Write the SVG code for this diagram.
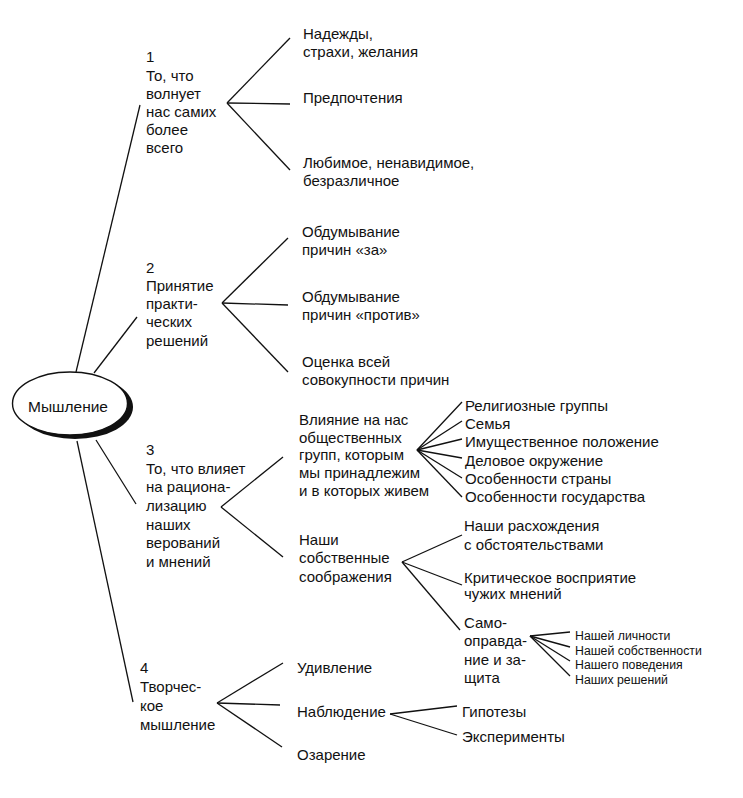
<svg xmlns="http://www.w3.org/2000/svg" width="743" height="798" viewBox="0 0 743 798">
<style>
text{font-family:"Liberation Sans","Noto Sans",Arial,sans-serif;font-size:15px;fill:#111}
.s{font-size:12.3px}
.c line{stroke:#111;stroke-width:1.3;fill:none}
</style>
<rect width="743" height="798" fill="#fff"/>
<g id="connectors" class="c">
<line x1="76" y1="372" x2="140" y2="105"/>
<line x1="94" y1="373" x2="137" y2="317"/>
<line x1="96" y1="440" x2="136" y2="504"/>
<line x1="77" y1="441" x2="133" y2="702"/>
<line x1="227" y1="103" x2="290" y2="38"/>
<line x1="227" y1="103" x2="290" y2="104"/>
<line x1="227" y1="103" x2="290" y2="170"/>
<line x1="222" y1="303" x2="288" y2="238"/>
<line x1="222" y1="303" x2="288" y2="305"/>
<line x1="222" y1="303" x2="288" y2="372"/>
<line x1="221" y1="507" x2="283" y2="457"/>
<line x1="221" y1="507" x2="283" y2="557"/>
<line x1="417" y1="450" x2="462" y2="402"/>
<line x1="417" y1="450" x2="462" y2="421"/>
<line x1="417" y1="450" x2="462" y2="439"/>
<line x1="417" y1="450" x2="462" y2="458"/>
<line x1="417" y1="450" x2="462" y2="478"/>
<line x1="417" y1="450" x2="462" y2="497"/>
<line x1="402" y1="562" x2="462" y2="535"/>
<line x1="402" y1="562" x2="462" y2="585"/>
<line x1="402" y1="562" x2="460" y2="630"/>
<line x1="530" y1="636" x2="570" y2="632"/>
<line x1="530" y1="636" x2="570" y2="647"/>
<line x1="530" y1="636" x2="570" y2="661"/>
<line x1="530" y1="636" x2="570" y2="676"/>
<line x1="217" y1="703" x2="283" y2="663"/>
<line x1="217" y1="703" x2="280" y2="705"/>
<line x1="217" y1="703" x2="282" y2="747"/>
<line x1="390" y1="714" x2="457" y2="706"/>
<line x1="390" y1="714" x2="457" y2="735"/>
</g>
<g id="root">
<ellipse cx="75" cy="407" rx="58" ry="32" fill="#111"/>
<ellipse cx="70" cy="403.5" rx="57.5" ry="31.5" fill="#fff" stroke="#111" stroke-width="1.4"/>
<text x="68" y="412" text-anchor="middle" style="font-size:15.5px">Мышление</text>
</g>
<g id="b1">
<text x="146" y="62">1</text>
<text x="146" y="81">То, что</text>
<text x="146" y="99">волнует</text>
<text x="146" y="117">нас самих</text>
<text x="146" y="135">более</text>
<text x="146" y="153">всего</text>
</g>
<g id="b1a"><text x="303" y="39">Надежды,</text><text x="303" y="57">страхи, желания</text></g>
<g id="b1b"><text x="303" y="103">Предпочтения</text></g>
<g id="b1c"><text x="303" y="168">Любимое, ненавидимое,</text><text x="303" y="186">безразличное</text></g>
<g id="b2">
<text x="146" y="273">2</text>
<text x="146" y="291">Принятие</text>
<text x="146" y="309">практи-</text>
<text x="146" y="327">ческих</text>
<text x="146" y="346">решений</text>
</g>
<g id="b2a"><text x="302" y="237">Обдумывание</text><text x="302" y="255">причин «за»</text></g>
<g id="b2b"><text x="302" y="302">Обдумывание</text><text x="302" y="320">причин «против»</text></g>
<g id="b2c"><text x="302" y="367">Оценка всей</text><text x="302" y="385">совокупности причин</text></g>
<g id="b3">
<text x="146" y="455">3</text>
<text x="146" y="474">То, что влияет</text>
<text x="146" y="492">на рациона-</text>
<text x="146" y="511">лизацию</text>
<text x="146" y="530">наших</text>
<text x="146" y="548">верований</text>
<text x="146" y="567">и мнений</text>
</g>
<g id="b3a">
<text x="299" y="425">Влияние на нас</text>
<text x="299" y="443">общественных</text>
<text x="299" y="460">групп, которым</text>
<text x="299" y="478">мы принадлежим</text>
<text x="299" y="496">и в которых живем</text>
</g>
<g id="b3a1"><text x="465" y="411">Религиозные группы</text></g>
<g id="b3a2"><text x="465" y="429">Семья</text></g>
<g id="b3a3"><text x="465" y="447">Имущественное положение</text></g>
<g id="b3a4"><text x="465" y="466">Деловое окружение</text></g>
<g id="b3a5"><text x="465" y="484">Особенности страны</text></g>
<g id="b3a6"><text x="465" y="502">Особенности государства</text></g>
<g id="b3b">
<text x="299" y="545">Наши</text>
<text x="299" y="563">собственные</text>
<text x="299" y="582">соображения</text>
</g>
<g id="b3b1"><text x="464" y="531">Наши расхождения</text><text x="464" y="550">с обстоятельствами</text></g>
<g id="b3b2"><text x="464" y="583">Критическое восприятие</text><text x="464" y="599">чужих мнений</text></g>
<g id="b3b3">
<text x="464" y="628">Само-</text>
<text x="464" y="646">оправда-</text>
<text x="464" y="665">ние и за-</text>
<text x="464" y="683">щита</text>
</g>
<g id="b3b3a"><text class="s" x="575" y="640">Нашей личности</text></g>
<g id="b3b3b"><text class="s" x="575" y="655">Нашей собственности</text></g>
<g id="b3b3c"><text class="s" x="575" y="669">Нашего поведения</text></g>
<g id="b3b3d"><text class="s" x="575" y="684">Наших решений</text></g>
<g id="b4">
<text x="140" y="673">4</text>
<text x="140" y="692">Творчес-</text>
<text x="140" y="711">кое</text>
<text x="140" y="730">мышление</text>
</g>
<g id="b4a"><text x="297" y="673">Удивление</text></g>
<g id="b4b"><text x="297" y="717">Наблюдение</text></g>
<g id="b4c"><text x="297" y="760">Озарение</text></g>
<g id="b4b1"><text x="462" y="717">Гипотезы</text></g>
<g id="b4b2"><text x="462" y="742">Эксперименты</text></g>
</svg>
